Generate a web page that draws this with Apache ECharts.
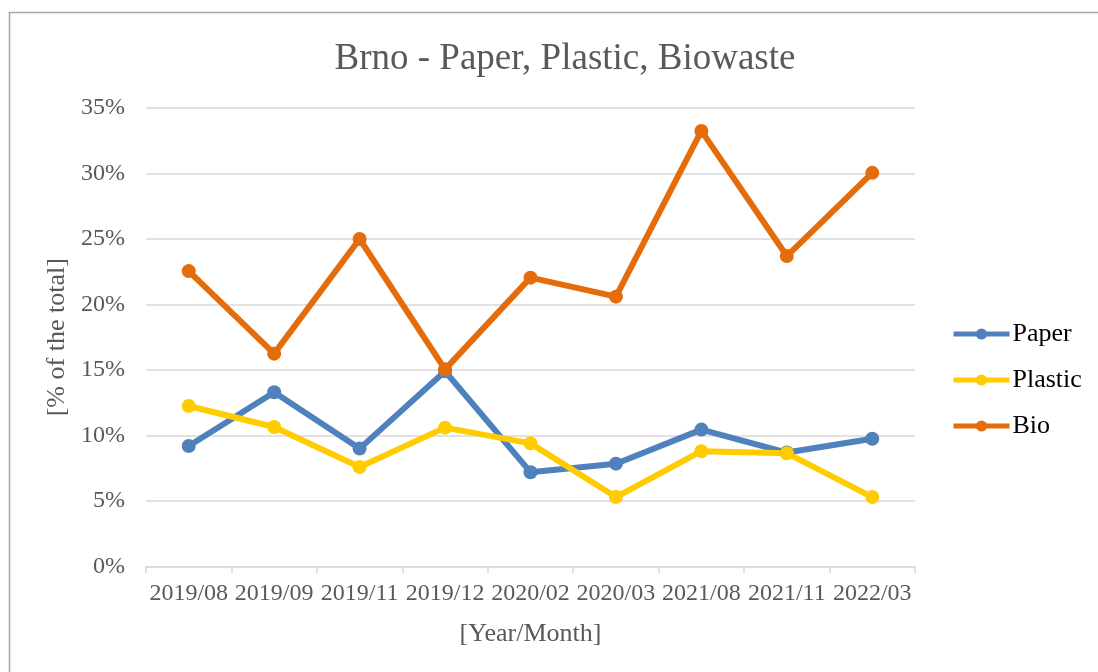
<!DOCTYPE html>
<html>
<head>
<meta charset="utf-8">
<script src="https://cdn.jsdelivr.net/npm/echarts@6/dist/echarts.min.js"></script>
<style>
  html, body { margin: 0; padding: 0; background: #ffffff; }
  #chart { width: 1098px; height: 672px; }
</style>
</head>
<body>
<div id="chart"></div>
<script>
// Sampling dates and waste shares (% of the total)
const months = ['2019/08', '2019/09', '2019/11', '2019/12', '2020/02', '2020/03', '2021/08', '2021/11', '2022/03'];
const paper   = [9.2, 13.3, 9.0, 14.9, 7.2, 7.85, 10.45, 8.7, 9.75];
const plastic = [12.25, 10.65, 7.6, 10.6, 9.4, 5.3, 8.8, 8.65, 5.3];
const bio     = [22.55, 16.25, 25.0, 15.05, 22.05, 20.6, 33.25, 23.7, 30.05];
const yTicks = [0, 5, 10, 15, 20, 25, 30, 35];

const FONT = '"Liberation Serif", "Times New Roman", serif';
const GREY = '#595959';

function lineSeries(name, data, color) {
  return {
    name: name,
    type: 'line',
    data: data,
    symbol: 'circle',
    symbolSize: 14,
    lineStyle: { width: 6, color: color },
    itemStyle: { color: color },
    emphasis: { disabled: true },
    z: 3
  };
}

const chart = echarts.init(document.getElementById('chart'), null, { renderer: 'canvas' });
chart.setOption({
  animation: false,
  backgroundColor: '#ffffff',
  textStyle: { fontFamily: FONT },
  graphic: [{
    type: 'rect',
    shape: { x: 9.5, y: 12.5, width: 1200, height: 800 },
    style: { fill: 'none', stroke: '#a6a6a6', lineWidth: 1.5 },
    silent: true,
    z: 0
  }],
  title: {
    text: 'Brno - Paper, Plastic, Biowaste',
    left: 560,
    textAlign: 'center',
    top: 36,
    textStyle: { fontFamily: FONT, fontSize: 37, fontWeight: 'normal', color: GREY }
  },
  grid: { left: 146, right: 183, top: 108, bottom: 105.5, containLabel: false },
  legend: {
    orient: 'vertical',
    left: 951,
    top: 321,
    padding: 0,
    itemWidth: 56,
    itemHeight: 14,
    itemGap: 20,
    lineStyle: { width: 5 },
    textStyle: { fontFamily: FONT, fontSize: 26, color: '#000000', padding: [0, 0, 0, -2] },
    data: ['Paper', 'Plastic', 'Bio']
  },
  xAxis: {
    type: 'category',
    data: months,
    boundaryGap: true,
    name: '[Year/Month]',
    nameLocation: 'middle',
    nameGap: 55,
    nameTextStyle: { fontFamily: FONT, fontSize: 26, color: GREY },
    axisLine: { lineStyle: { color: '#d9d9d9', width: 1.5 } },
    axisTick: { show: true, length: 7, alignWithLabel: false, lineStyle: { color: '#d9d9d9', width: 1.5 } },
    axisLabel: { fontFamily: FONT, fontSize: 24, color: GREY, margin: 15, interval: 0 },
    splitLine: { show: false }
  },
  yAxis: {
    type: 'value',
    min: yTicks[0],
    max: yTicks[yTicks.length - 1],
    interval: 5,
    name: '[% of the total]',
    nameLocation: 'middle',
    nameGap: 69,
    nameRotate: 90,
    nameTextStyle: { fontFamily: FONT, fontSize: 26, color: GREY },
    axisLine: { show: false },
    axisTick: { show: false },
    axisLabel: { fontFamily: FONT, fontSize: 24, color: GREY, margin: 21, formatter: v => v + '%' },
    splitLine: { lineStyle: { color: '#d9d9d9', width: 1.5 } }
  },
  series: [
    lineSeries('Paper', paper, '#4F81BD'),
    lineSeries('Plastic', plastic, '#FFCC00'),
    lineSeries('Bio', bio, '#E46C0A')
  ]
});
</script>
</body>
</html>
